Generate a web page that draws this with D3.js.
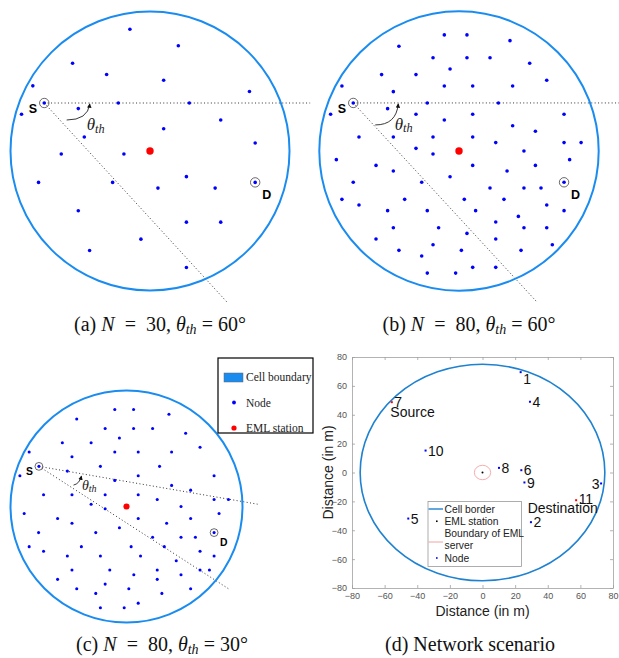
<!DOCTYPE html>
<html>
<head>
<meta charset="utf-8">
<script src="https://cdn.jsdelivr.net/npm/d3@7"></script>
<style>
  body { margin: 0; background: #fff; }
  text { font-family: "Liberation Serif", "Times New Roman", serif; }
  .sans, .sans text { font-family: "Liberation Sans", Arial, sans-serif; }
</style>
</head>
<body>
<svg id="fig" width="619" height="658"></svg>
<script>
// node positions, cell radius = 100 units, centre = EML station
var nodesA = [[-14.4,87.3],[20.3,75.4],[-55.5,62.9],[-31.1,54.8],[9.8,50.7],[-84.0,46.7],[71.3,42.6],[-51.4,30.4],[-22.7,34.4],[28.2,34.4],
  [-92.1,26.3],[50.7,22.2],[9.8,16.0],[-47.1,10.0],[75.4,5.7],[-63.6,-2.2],[-18.7,-2.2],[26.1,-18.4],[-79.9,-22.5],[-26.8,-22.5],
  [5.7,-26.6],[46.7,-26.6],[-51.4,-42.8],[26.1,-51.0],[50.7,-51.0],[-6.5,-63.2],[-43.3,-71.3],[26.1,-83.5]];
var sourceA = [-75.8, 34.4], destA = [75.4, -22.5];
var guidesA = [[114.8, 34.4], [55.0, -108.1]];

var nodesB = [[-10.5,83.1],[5.7,83.1],[36.5,79.0],[-43.0,75.0],[-18.6,66.8],[5.7,66.8],[22.2,66.8],[50.6,62.8],[-6.4,58.7],[-55.4,54.7],
  [-30.8,54.7],[62.8,50.6],[-83.8,46.5],[-10.5,46.5],[9.8,46.5],[38.4,46.5],[-47.0,42.5],[-22.7,34.4],[28.2,34.4],[-51.1,30.3],
  [-91.9,26.3],[-30.8,26.3],[9.8,26.3],[75.2,26.3],[-10.5,22.2],[38.4,18.1],[54.7,14.1],[-71.6,10.0],[-47.0,10.0],[-18.6,10.0],
  [9.8,10.0],[26.3,6.0],[75.2,6.0],[87.4,6.0],[-30.8,1.9],[46.5,0],[-18.6,-2.1],[-87.8,-6.2],[79.2,-6.2],[-59.4,-10.3],
  [9.8,-10.3],[54.7,-10.3],[-47.0,-14.3],[34.4,-14.3],[-6.4,-18.4],[-75.7,-22.4],[-26.7,-22.4],[22.2,-26.5],[46.5,-26.5],[58.7,-26.5],
  [-83.8,-34.6],[-38.9,-34.6],[3.8,-34.6],[32.2,-34.6],[-71.6,-38.7],[62.8,-38.7],[-51.1,-42.7],[-22.7,-42.7],[11.9,-42.7],[75.2,-42.7],
  [42.5,-46.8],[26.3,-50.8],[-47.0,-54.9],[-14.6,-54.9],[46.5,-54.9],[62.8,-54.9],[5.7,-59.0],[-59.4,-63.0],[26.3,-63.0],[66.8,-67.1],
  [-18.6,-67.1],[-43.0,-71.1],[1.7,-71.1],[44.4,-71.1],[-26.7,-75.2],[9.8,-83.3],[26.3,-83.3],[-22.7,-87.4],[-2.4,-87.4]];
var sourceB = [-75.7, 34.4], destB = [75.2, -22.4];
var guidesB = [[115.3, 34.4], [55.6, -107.9]];

var nodesC = [[-10.1,83.6],[6.1,83.6],[36.6,79.5],[-42.9,75.5],[-18.4,67.2],[6.1,67.2],[22.5,67.2],[51.0,63.1],[-6.1,59.1],[-55.3,55.0],
  [-30.5,55.0],[63.4,51.0],[-83.9,47.0],[-10.1,47.0],[10.1,47.0],[38.9,47.0],[-47.0,42.9],[-22.5,34.6],[28.5,34.6],[-51.0,30.5],
  [-91.9,26.5],[10.1,26.5],[75.5,26.5],[-10.1,22.5],[38.9,18.2],[55.3,14.1],[-71.5,10.1],[-47.0,10.1],[-18.4,10.1],[10.1,10.1],
  [26.5,6.1],[75.5,6.1],[87.9,6.1],[-30.5,2.0],[47.0,0],[-18.4,-2.0],[-88.2,-6.1],[79.8,-6.1],[-59.4,-10.4],[10.1,-10.4],
  [55.3,-10.4],[-47.0,-14.4],[34.6,-14.4],[-6.1,-18.4],[-75.8,-22.5],[-26.5,-22.5],[22.5,-26.5],[47.0,-26.5],[59.4,-26.5],[-83.9,-34.6],
  [-38.9,-34.6],[4.0,-34.6],[32.6,-34.6],[-71.5,-38.6],[63.4,-38.6],[-51.0,-42.7],[-22.5,-42.7],[12.1,-42.7],[75.5,-42.7],[42.9,-46.7],
  [-47.0,-54.8],[-14.4,-54.8],[26.5,-54.8],[63.4,-54.8],[71.5,-54.8],[6.3,-58.8],[47.0,-58.8],[-59.4,-62.8],[26.5,-62.8],[-18.4,-66.9],
  [-42.9,-70.9],[2.0,-70.9],[55.3,-70.9],[-26.5,-74.9],[30.5,-74.9],[10.1,-83.3],[-22.5,-87.3],[-2.0,-87.3]];
var sourceC = [-75.5, 34.6], destC = [75.5, -22.5];
var guidesC = [[113.0, 2.0], [87.9, -70.9]];

var legendC = ['Cell boundary', 'Node', 'EML station'];

// panel (d): network scenario, metres
var dNames = ['1', '4', '7', '10', '8', '6', '9', '3', '11', '2', '5'];
var dX = [23.4, 29.1, -55.6, -34.9, 10.1, 23.8, 25.7, 72.7, 57.4, 29.7, -45.5];
var dY = [69.5, 49.0, 48.7, 15.2, 3.2, 1.6, -6.9, -7.6, -19.2, -34.4, -31.9];
var dLabelY = [64.9, 49.0, 48.7, 15.2, 3.2, 1.6, -6.9, -7.6, -18.2, -34.4, -31.9];
var dRed = ['7', '11'];
var cellRadiusM = 75, serverRadiusM = 5;
var dTicks = [-80, -60, -40, -20, 0, 20, 40, 60, 80];
var dRoles = [{text: 'Source', x: -56.5, y: 41.8}, {text: 'Destination', x: 27.7, y: -24.9}];
var legendD = ['Cell border', 'EML station', 'Boundary of EML', 'server', 'Node'];

var captions = [
  {tag: '(a)', N: 30, th: 60}, {tag: '(b)', N: 80, th: 60}, {tag: '(c)', N: 80, th: 30}
];

var svg = d3.select('#fig');
svg.append('rect').attr('width', 619).attr('height', 658).attr('fill', '#fff');

var defs = svg.append('defs');
defs.append('marker').attr('id', 'head').attr('viewBox', '0 0 6 6')
  .attr('refX', 5).attr('refY', 3).attr('markerWidth', 5).attr('markerHeight', 5)
  .attr('orient', 'auto')
  .append('path').attr('d', 'M0,0L6,3L0,6z').attr('fill', '#111');

var cellBlue = '#1a8cf0';

function drawCell(p) {
  var g = svg.append('g');
  var x = d3.scaleLinear().domain([-100, 100]).range([p.cx - p.r, p.cx + p.r]);
  var y = d3.scaleLinear().domain([-100, 100]).range([p.cy + p.r, p.cy - p.r]);
  var k = p.r / 139.5;
  var sx = x(p.src[0]), sy = y(p.src[1]);

  g.selectAll('line.guide').data(p.guides).enter().append('line')
    .attr('class', 'guide')
    .attr('x1', sx).attr('y1', sy)
    .attr('x2', function(d) { return x(d[0]); })
    .attr('y2', function(d) { return y(d[1]); })
    .attr('stroke', '#333').attr('stroke-width', 1)
    .attr('stroke-dasharray', '1,2.4');

  g.append('circle').attr('cx', x(0)).attr('cy', y(0)).attr('r', x(100) - x(0))
    .attr('fill', 'none').attr('stroke', cellBlue).attr('stroke-width', 2);

  var all = p.nodes.concat([p.src, p.dst]);
  g.selectAll('circle.node').data(all).enter().append('circle')
    .attr('class', 'node')
    .attr('cx', function(d) { return x(d[0]); })
    .attr('cy', function(d) { return y(d[1]); })
    .attr('r', 1.6 * k + 0.2).attr('fill', '#0000ff');

  [p.src, p.dst].forEach(function(d) {
    g.append('circle').attr('cx', x(d[0])).attr('cy', y(d[1])).attr('r', 4.7 * k)
      .attr('fill', 'none').attr('stroke', '#444').attr('stroke-width', 0.8);
  });

  g.append('circle').attr('cx', x(0)).attr('cy', y(0)).attr('r', 3.7 * k)
    .attr('fill', '#ff0000');

  // curved arrow between the two guide lines
  var a = p.arrow;
  g.append('path')
    .attr('d', 'M' + (sx + a[0]) + ',' + (sy + a[1]) + 'Q' + (sx + a[2]) + ',' + (sy + a[3]) + ' ' + (sx + a[4]) + ',' + (sy + a[5]))
    .attr('fill', 'none').attr('stroke', '#222').attr('stroke-width', 0.9)
    .attr('marker-end', 'url(#head)');

  var t = g.append('text').attr('x', sx + p.theta[0]).attr('y', sy + p.theta[1])
    .attr('font-style', 'italic').attr('font-size', p.theta[2]).attr('fill', '#222');
  t.append('tspan').text('θ');
  t.append('tspan').attr('font-size', p.theta[2] * 0.72).attr('dy', 2.5 * k).text('th');

  g.append('text').attr('class', 'sans').attr('x', sx - 11.3 * k).attr('y', sy + 10 * k)
    .attr('text-anchor', 'middle').attr('font-weight', 'bold').attr('font-size', 12.5 * k)
    .text('S');
  g.append('text').attr('class', 'sans').attr('x', x(p.dst[0]) + 11.5 * k).attr('y', y(p.dst[1]) + 16.5 * k)
    .attr('text-anchor', 'middle').attr('font-weight', 'bold').attr('font-size', 12.5 * k)
    .text('D');
}

drawCell({cx: 150, cy: 151, r: 139.5, nodes: nodesA, src: sourceA, dst: destA, guides: guidesA,
  arrow: [22.4, 17, 43.5, 17, 45.5, 1], theta: [42.4, 27, 17]});
drawCell({cx: 459, cy: 151, r: 139.7, nodes: nodesB, src: sourceB, dst: destB, guides: guidesB,
  arrow: [22, 22, 43, 22, 45, 1], theta: [41.5, 27, 17]});
drawCell({cx: 126.5, cy: 506.5, r: 116, nodes: nodesC, src: sourceC, dst: destC, guides: guidesC,
  arrow: [34.6, 18.7, 40.5, 17.5, 42.5, 9.8], theta: [43, 23.7, 14]});

// legend of (c)
var lg = svg.append('g');
lg.append('rect').attr('x', 218).attr('y', 358).attr('width', 95).attr('height', 75)
  .attr('fill', '#fff').attr('stroke', '#000').attr('stroke-width', 1.2);
var ly = d3.scalePoint().domain(legendC).range([381, 432]);
lg.append('rect').attr('x', 224).attr('y', ly(legendC[0]) - 8).attr('width', 19).attr('height', 9)
  .attr('fill', cellBlue).attr('stroke', '#666').attr('stroke-width', 0.5);
lg.append('circle').attr('cx', 234).attr('cy', ly(legendC[1]) - 4).attr('r', 1.9).attr('fill', '#0000ff');
lg.append('circle').attr('cx', 234).attr('cy', ly(legendC[2]) - 4).attr('r', 2.6).attr('fill', '#ff0000');
lg.selectAll('text').data(legendC).enter().append('text')
  .attr('x', 246).attr('y', function(d) { return ly(d); })
  .attr('font-size', 11.5).attr('fill', '#222').text(function(d) { return d; });

// panel (d)
var xD = d3.scaleLinear().domain([-80, 80]).range([352, 613]);
var yD = d3.scaleLinear().domain([-80, 80]).range([588, 357]);
var gd = svg.append('g').attr('class', 'sans');

function styleAxis(sel) {
  sel.selectAll('.domain').attr('stroke', '#a0a0a0').attr('stroke-width', 0.8);
  sel.selectAll('.tick line').attr('stroke', '#a0a0a0').attr('stroke-width', 0.8);
  sel.selectAll('.tick text').attr('fill', '#555').attr('font-size', 9)
    .attr('font-family', '"Liberation Sans", Arial, sans-serif');
}
gd.append('g').attr('transform', 'translate(0,588)')
  .call(d3.axisBottom(xD).tickValues(dTicks).tickSize(-3).tickPadding(5).tickSizeOuter(0)).call(styleAxis);
gd.append('g').attr('transform', 'translate(0,357)')
  .call(d3.axisTop(xD).tickValues(dTicks).tickSize(-3).tickFormat('').tickSizeOuter(0)).call(styleAxis);
gd.append('g').attr('transform', 'translate(352,0)')
  .call(d3.axisLeft(yD).tickValues(dTicks).tickSize(-3).tickPadding(5).tickSizeOuter(0)).call(styleAxis);
gd.append('g').attr('transform', 'translate(613,0)')
  .call(d3.axisRight(yD).tickValues(dTicks).tickSize(-3).tickFormat('').tickSizeOuter(0)).call(styleAxis);

gd.append('ellipse').attr('cx', xD(0)).attr('cy', yD(0))
  .attr('rx', xD(cellRadiusM) - xD(0)).attr('ry', yD(0) - yD(cellRadiusM))
  .attr('fill', 'none').attr('stroke', '#1f82d0').attr('stroke-width', 1.6);
gd.append('ellipse').attr('cx', xD(0)).attr('cy', yD(0))
  .attr('rx', xD(serverRadiusM) - xD(0)).attr('ry', yD(0) - yD(serverRadiusM))
  .attr('fill', 'none').attr('stroke', '#f08a8a').attr('stroke-width', 0.7);
gd.append('circle').attr('cx', xD(0)).attr('cy', yD(0)).attr('r', 1).attr('fill', '#000');

gd.selectAll('rect.pt').data(dNames).enter().append('rect').attr('class', 'pt')
  .attr('x', function(d, i) { return xD(dX[i]) - 1; })
  .attr('y', function(d, i) { return yD(dY[i]) - 1; })
  .attr('width', 2).attr('height', 2)
  .attr('fill', function(d) { return dRed.indexOf(d) >= 0 ? '#ff0000' : '#0000ff'; });

gd.selectAll('text.lab').data(dNames).enter().append('text').attr('class', 'lab')
  .attr('x', function(d, i) { return d === '3' ? xD(dX[i]) - 1.5 : xD(dX[i]) + 2.5; })
  .attr('y', function(d, i) { return yD(dLabelY[i]); })
  .attr('dy', '0.36em')
  .attr('text-anchor', function(d) { return d === '3' ? 'end' : 'start'; })
  .attr('font-size', 14).attr('fill', '#111').text(function(d) { return d; });

gd.selectAll('text.role').data(dRoles).enter().append('text').attr('class', 'role')
  .attr('x', function(d) { return xD(d.x); }).attr('y', function(d) { return yD(d.y); })
  .attr('dy', '0.36em').attr('font-size', 14).attr('fill', '#111')
  .text(function(d) { return d.text; });

gd.append('text').attr('x', (352 + 613) / 2).attr('y', 616).attr('text-anchor', 'middle')
  .attr('font-size', 14).attr('fill', '#222').text('Distance (in m)');
gd.append('text').attr('transform', 'translate(333,' + yD(0) + ') rotate(-90)')
  .attr('text-anchor', 'middle').attr('font-size', 14).attr('fill', '#222').text('Distance (in m)');

// legend of (d)
var ld = gd.append('g');
ld.append('rect').attr('x', 428).attr('y', 501.5).attr('width', 93.5).attr('height', 65)
  .attr('fill', '#fff').attr('stroke', '#9a9a9a').attr('stroke-width', 0.8);
var ldy = d3.scalePoint().domain(legendD).range([509, 558]);
ld.append('line').attr('x1', 428.5).attr('x2', 443).attr('y1', ldy(legendD[0])).attr('y2', ldy(legendD[0]))
  .attr('stroke', '#1f82d0').attr('stroke-width', 1.4);
ld.append('rect').attr('x', 436).attr('y', ldy(legendD[1]) - 0.8).attr('width', 1.6).attr('height', 1.6).attr('fill', '#000');
ld.append('line').attr('x1', 428.5).attr('x2', 443).attr('y1', 542).attr('y2', 542)
  .attr('stroke', '#f08a8a').attr('stroke-width', 0.8);
ld.append('rect').attr('x', 436).attr('y', ldy(legendD[4]) - 0.8).attr('width', 1.6).attr('height', 1.6).attr('fill', '#0000ff');
ld.selectAll('text').data(legendD).enter().append('text')
  .attr('x', 444.5).attr('y', function(d) { return ldy(d); }).attr('dy', '0.36em')
  .attr('font-size', 10.3).attr('fill', '#222').text(function(d) { return d; });

// captions
var capPos = [[160, 331], [469, 331], [162, 651]];
captions.forEach(function(c, i) {
  var t = svg.append('text').attr('x', capPos[i][0]).attr('y', capPos[i][1])
    .attr('text-anchor', 'middle').attr('font-size', 20).attr('fill', '#111');
  t.append('tspan').text(c.tag + ' ');
  t.append('tspan').attr('font-style', 'italic').text('N');
  t.append('tspan').text('\u2002=\u2002' + c.N + ', ');
  t.append('tspan').attr('font-style', 'italic').text('θ');
  t.append('tspan').attr('font-style', 'italic').attr('font-size', 14).attr('dy', 3).text('th');
  t.append('tspan').attr('dy', -3).text(' = ' + c.th + '°');
});
svg.append('text').attr('x', 470).attr('y', 651).attr('text-anchor', 'middle')
  .attr('font-size', 20).attr('fill', '#111').text('(d) Network scenario');
</script>
</body>
</html>
